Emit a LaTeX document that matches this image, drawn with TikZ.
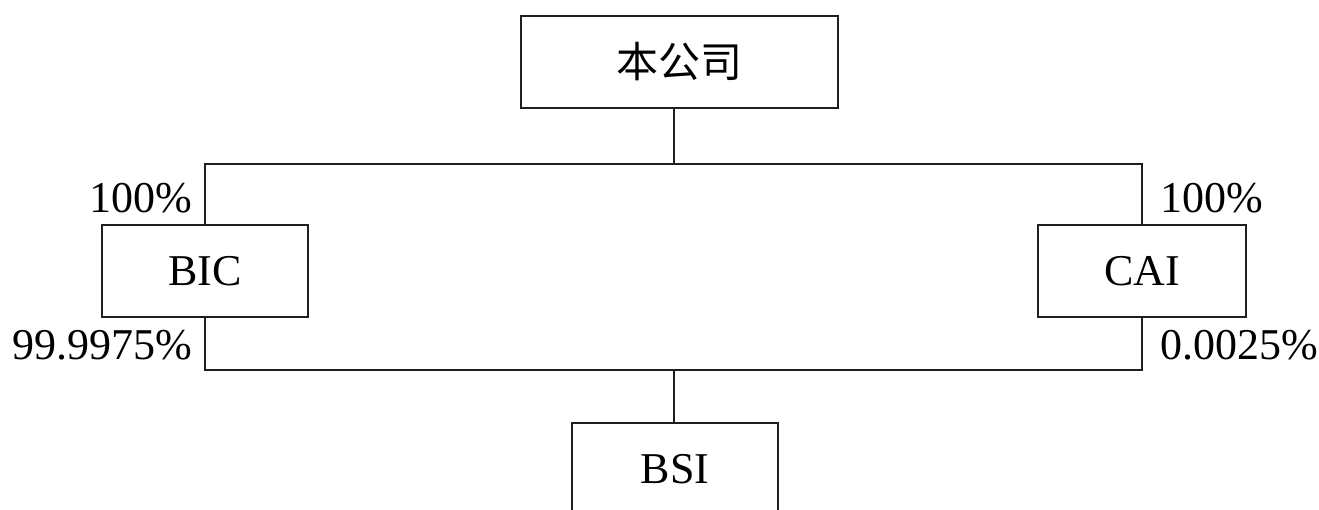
\documentclass[tikz,border=0pt]{standalone}
\usepackage{fontspec}
\setmainfont{Liberation Serif}
\newfontfamily\cjk{Noto Sans CJK SC}
\begin{document}
\begin{tikzpicture}[x=1pt,y=-1pt,
  box/.style={draw=black!88,line width=2.8pt,inner sep=0pt,minimum height=92pt,font=\fontsize{44}{50}\selectfont},
  link/.style={draw=black!88,line width=2.8pt},
  pct/.style={inner sep=0pt,font=\fontsize{44}{50}\selectfont}]
\useasboundingbox (0,0) rectangle (1319,509);
\clip (0,0) rectangle (1319,509);
\node[box,minimum width=317pt] (top) at (679.5,62) {\cjk\fontsize{42}{48}\selectfont 本公司};
\node[box,minimum width=206pt] (BIC) at (205,271) {BIC};
\node[box,minimum width=208pt] (CAI) at (1142,271) {CAI};
\node[box,minimum width=206pt] (BSI) at (675,469) {BSI};
\coordinate (j1) at (674,164);
\coordinate (j2) at (674,370);
\draw[link] (j1 |- top.south) -- (j1);
\draw[link] (BIC.north) -- (BIC.north |- j1) -- (CAI.north |- j1) -- (CAI.north);
\draw[link] (BIC.south) -- (BIC.south |- j2) -- (CAI.south |- j2) -- (CAI.south);
\draw[link] (j2) -- (j2 |- BSI.north);
\node[pct,anchor=base east] (p1) at (192,212) {100\%};
\node[pct,anchor=base west] (p2) at (1160,212) {100\%};
\node[pct,anchor=base east] (p3) at (192,359) {99.9975\%};
\node[pct,anchor=base west] (p4) at (1160,359) {0.0025\%};
\end{tikzpicture}
\end{document}
